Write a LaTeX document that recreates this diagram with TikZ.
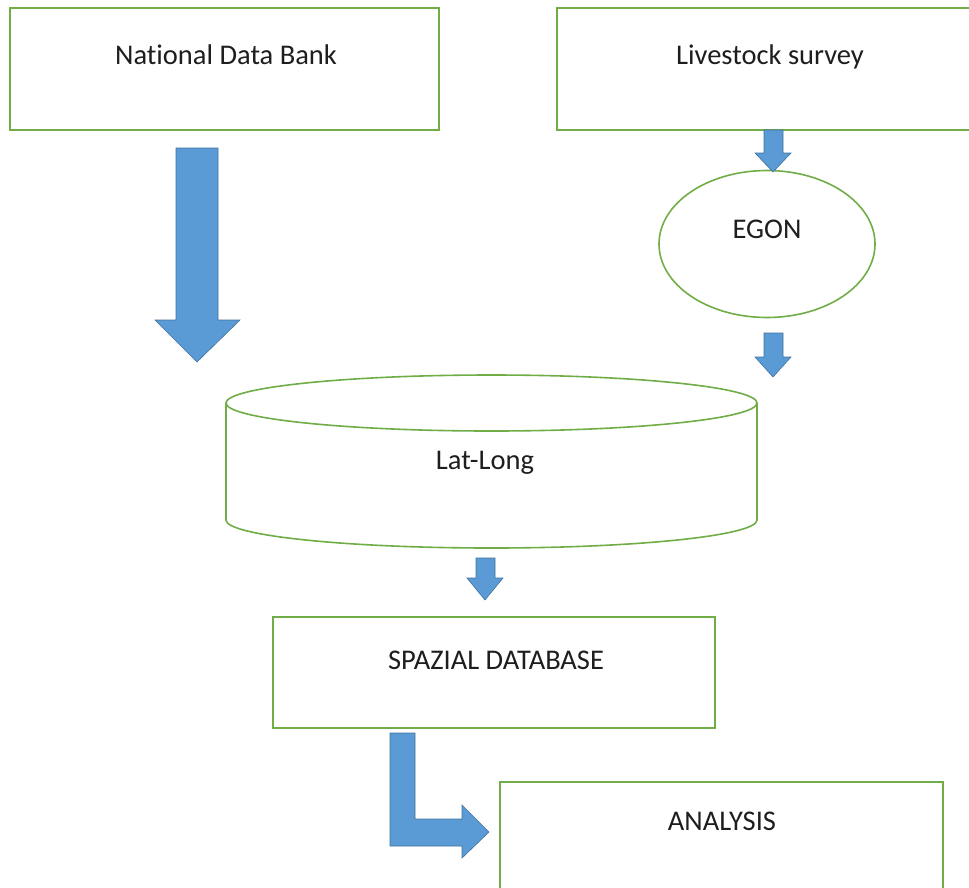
\documentclass[tikz,border=0pt]{standalone}
\usepackage{fontspec}
\setmainfont{Carlito}[Ligatures={NoCommon}]
\usetikzlibrary{shapes.geometric}
\definecolor{boxgreen}{RGB}{112,173,71}
\definecolor{arrowblue}{RGB}{91,155,213}
\definecolor{arrowedge}{RGB}{65,113,156}
\definecolor{txt}{RGB}{30,30,30}
\tikzset{
  box/.style={draw=boxgreen, line width=1.6pt, fill=white, rectangle, inner sep=0pt},
  oval/.style={draw=boxgreen, line width=1.6pt, fill=white, ellipse, inner sep=0pt},
  lbl/.style={text=txt, font=\fontsize{28.5}{32}\selectfont, inner sep=0pt, anchor=base},
  blockarrow/.style={fill=arrowblue, draw=arrowedge, line width=0.6pt, line join=miter}
}
\begin{document}
\begin{tikzpicture}[x=1pt, y=-1pt]
\useasboundingbox (0,0) rectangle (969,887);
% boxes
\node[box, minimum width=429pt, minimum height=122pt] (ndb) at (224.5,69) {};
\node[lbl] (ndbt) at (226,64) {National Data Bank};
\node[box, minimum width=433pt, minimum height=122pt] (ls) at (773.5,69) {};
\node[lbl] (lst) at (770,64) {Livestock survey};
\node[oval, minimum width=216pt, minimum height=147pt] (egon) at (767,244) {};
\node[lbl] (egont) at (767,238) {EGON};
% cylinder
\draw[draw=boxgreen, line width=1.6pt, fill=white]
  (226,403) -- (226,520) arc[start angle=180, end angle=360, x radius=265.5pt, y radius=28pt] -- (757,403);
\draw[draw=boxgreen, line width=1.6pt, fill=white] (491.5,403) ellipse[x radius=265.5pt, y radius=28pt];
\node[lbl] (lat) at (485,469) {Lat-Long};
\node[box, minimum width=442pt, minimum height=111pt] (spz) at (494,672.5) {};
\node[lbl] (spzt) at (496,669) {SPAZIAL DATABASE};
\node[box, minimum width=443pt, minimum height=140pt] (ana) at (721.5,852) {};
\node[lbl] (anat) at (722,830) {ANALYSIS};
% block arrows
\draw[blockarrow] (176,148) -- (218,148) -- (218,320) -- (240,320) -- (197,362) -- (155,320) -- (176,320) -- cycle;
\draw[blockarrow] (764,130) -- (783,130) -- (783,153) -- (791,153) -- (773,172) -- (755,153) -- (764,153) -- cycle;
\draw[blockarrow] (764,333) -- (783,333) -- (783,357) -- (791,357) -- (773,377) -- (755,357) -- (764,357) -- cycle;
\draw[blockarrow] (476,558) -- (495,558) -- (495,578) -- (503,578) -- (485,600) -- (467,578) -- (476,578) -- cycle;
\draw[blockarrow] (390,733) -- (415,733) -- (415,819) -- (462,819) -- (462,805) -- (489,832) -- (462,858) -- (462,846) -- (390,846) -- cycle;
\end{tikzpicture}
\end{document}
